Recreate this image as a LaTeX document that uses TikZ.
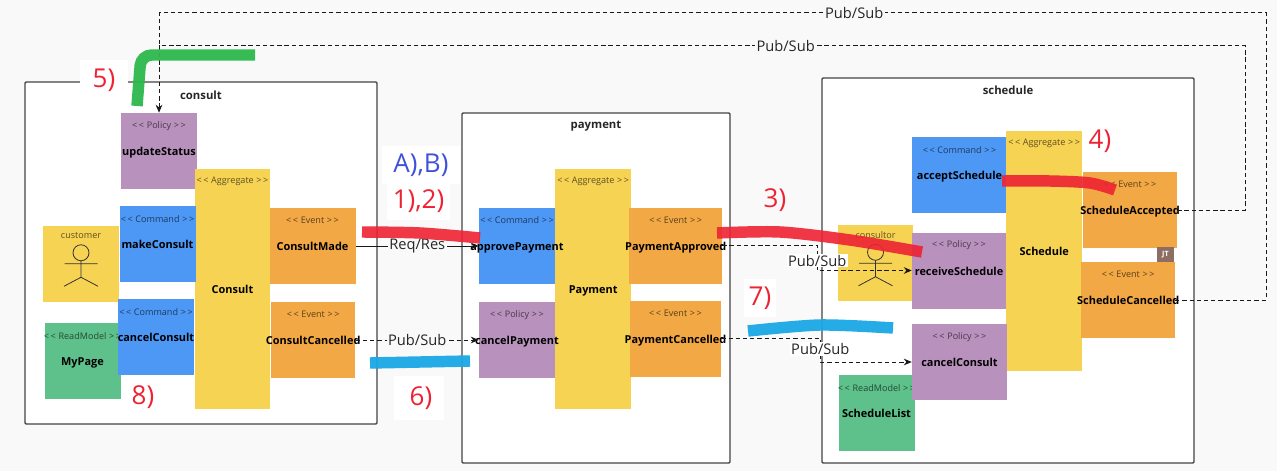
\documentclass[tikz,border=0pt]{standalone}
\usepackage{fontspec}
\setmainfont{Open Sans}
\usepackage{xcolor}
\usetikzlibrary{arrows.meta}
\definecolor{canvasbg}{HTML}{F9F9F9}
\definecolor{boxline}{HTML}{444444}
\definecolor{commandfill}{HTML}{4E98F5}
\definecolor{aggregatefill}{HTML}{F7D354}
\definecolor{eventfill}{HTML}{F2A845}
\definecolor{policyfill}{HTML}{B892BD}
\definecolor{readfill}{HTML}{5EC08A}
\definecolor{jtfill}{HTML}{8D6E63}
\definecolor{notered}{HTML}{EE2233}
\definecolor{noteblue}{HTML}{3F51D9}
\definecolor{markred}{HTML}{EE2233}
\definecolor{markgreen}{HTML}{2DB84D}
\definecolor{markblue}{HTML}{1AA7E5}
\newcommand{\stereo}[1]{<\kern1.2pt<\kern2pt #1\kern2pt >\kern1.2pt>}
\newcommand{\nm}[1]{\makebox[0pt]{\smash{\raisebox{-3.4pt}{#1}}}}
\tikzset{
  context/.style={draw=boxline, line width=1.1pt, fill=white, rounded corners=.8pt, inner sep=0pt},
  title/.style={anchor=center, font=\bfseries\fontsize{8.5}{10}\selectfont, text=black!85},
  tag/.style={anchor=center, yshift=-9.8pt, font=\fontsize{6.8}{8}\selectfont, text=black, text opacity=.62, inner sep=0pt},
  sticky/.style={inner sep=0pt, minimum width=57pt, minimum height=57pt, font=\bfseries\fontsize{8.2}{10}\selectfont},
  command/.style={sticky, fill=commandfill, label={[tag]north:\stereo{Command}}},
  aggregate/.style={sticky, fill=aggregatefill, minimum height=180pt, label={[tag]north:\stereo{Aggregate}}},
  event/.style={sticky, fill=eventfill, label={[tag]north:\stereo{Event}}},
  policy/.style={sticky, fill=policyfill, label={[tag]north:\stereo{Policy}}},
  readmodel/.style={sticky, fill=readfill, label={[tag]north:\stereo{ReadModel}}},
  actor/.style={sticky, fill=aggregatefill, label={[tag, yshift=1.8pt]north:#1}},
  link/.style={draw=black!90, line width=.75pt, -{Stealth[length=6pt,width=5pt]}},
  pubsub/.style={link, dash pattern=on 3.2pt off 2.2pt},
  linklabel/.style={fill=canvasbg, inner sep=1pt, font=\fontsize{11}{13}\selectfont, text=black!85},
  note/.style={fill=white, inner sep=0pt, font=\fontsize{19.5}{22}\selectfont, text=notered},
  marker/.style={line width=8.6pt, opacity=.95},
  stickman/.pic={
    \draw[line width=.6pt, draw=black!80] (0,-49) circle (6pt)
      (-16.5,-38) -- (16.5,-38) (0,-41) -- (0,-24.5) (-17,-15.5) -- (0,-24.5) -- (17,-15.5);
  }
}

\begin{document}
\begin{tikzpicture}[x=.75pt, y=-.75pt]
  % Canvas
  \fill[white] (0,0) rectangle (1281,474);
  \fill[canvasbg] (0,0) rectangle (1277,471);
  \useasboundingbox (0,0) rectangle (1281,474);

  % Bounded contexts
  \node[context, minimum width=264pt, minimum height=256.5pt, label={[title, yshift=-10.2pt]north:consult}] (consultBox) at (201,253) {};
  \node[context, minimum width=201pt, minimum height=262.5pt, label={[title, yshift=-10.2pt]north:payment}] (paymentBox) at (596,288) {};
  \node[context, minimum width=279pt, minimum height=288.75pt, label={[title, yshift=-9.5pt]north:schedule}] (scheduleBox) at (1008,270.5) {};

  % Consult
  \node[policy] (updateStatus) at (159,151) {\nm{updateStatus}};
  \node[actor=customer] (customer) at (81,263.5) {};
  \pic at (customer.south) {stickman};
  \node[aggregate, minimum width=56.6pt] (Consult) at (232.5,289) {\nm{Consult}};
  \node[command] (makeConsult) at (157.5,244) {\nm{makeConsult}};
  \node[event, minimum width=64.5pt] (ConsultMade) at (312.5,246) {\nm{ConsultMade}};
  \node[readmodel] (MyPage) at (82.5,361) {\nm{MyPage}};
  \node[command] (cancelConsultCmd) at (156,337) {\nm{cancelConsult}};
  \node[event, minimum width=63.4pt] (ConsultCancelled) at (313.2,340) {\nm{ConsultCancelled}};

  % Payment
  \node[aggregate, minimum width=56.6pt] (Payment) at (593.2,289) {\nm{Payment}};
  \node[command] (approvePayment) at (517,245.5) {\nm{approvePayment}};
  \node[policy] (cancelPayment) at (517,340) {\nm{cancelPayment}};
  \node[event, minimum width=69.4pt] (PaymentApproved) at (675.7,245.5) {\nm{PaymentApproved}};
  \node[event, minimum width=68.3pt] (PaymentCancelled) at (675.5,338.5) {\nm{PaymentCancelled}};

  % Schedule
  \node[command, minimum width=71.2pt] (acceptSchedule) at (959.5,175) {\nm{acceptSchedule}};
  \node[actor=consultor, minimum width=56.2pt] (consultor) at (875.5,263) {};
  \pic at (consultor.south) {stickman};
  \node[aggregate, minimum width=56.6pt] (Schedule) at (1044.2,251) {\nm{Schedule}};
  \node[event, minimum width=70.5pt] (ScheduleAccepted) at (1130,210) {\nm{ScheduleAccepted}};
  \node[policy, minimum width=70.5pt] (receiveSchedule) at (959,270.5) {\nm{receiveSchedule}};
  \node[event, minimum width=70.1pt] (ScheduleCancelled) at (1128.2,300) {\nm{ScheduleCancelled}};
  \node[readmodel] (ScheduleList) at (876.5,413) {\nm{ScheduleList}};
  \node[policy, minimum width=71.2pt] (cancelConsult) at (959.5,362) {\nm{cancelConsult}};
  \node[fill=jtfill, text=white, inner sep=0pt, minimum width=12.8pt, minimum height=10.9pt, font=\bfseries\fontsize{5.4}{6}\selectfont] (jt) at (1165.5,254.7) {JT};

  % Relationships
  \draw[link] (ConsultMade.east) -- node[linklabel] (reqres) {Req/Res} (ConsultMade.east -| approvePayment.west);
  \draw[pubsub] (ConsultCancelled.east) -- node[linklabel] (pubsubA) {Pub/Sub} (ConsultCancelled.east -| cancelPayment.west);
  \draw[pubsub] (PaymentApproved.east) -- ++(95,0) |- node[linklabel, pos=.3, fill=white] (pubsubB) {Pub/Sub} (receiveSchedule.west);
  \draw[pubsub] (PaymentCancelled.east) -- ++(99,0) |- node[linklabel, pos=.22, fill=white] (pubsubC) {Pub/Sub} (cancelConsult.west);
  \coordinate (innerCorner) at (1245,46);
  \coordinate (outerCorner) at (1266,13);
  \draw[pubsub] (ScheduleAccepted.east) -| (innerCorner) -- node[linklabel, pos=.423] (pubsubD) {Pub/Sub} (innerCorner -| updateStatus.north) -- (updateStatus.north);
  \draw[pubsub, -] (ScheduleCancelled.east) -| (outerCorner) -- node[linklabel, pos=.372] (pubsubE) {Pub/Sub} (outerCorner -| updateStatus.north) -- (innerCorner -| updateStatus.north);

  % Highlighter strokes
  \draw[marker, markred, opacity=.9] plot[smooth] coordinates {(362,232) (420,233) (480,238)};
  \draw[marker, markred, opacity=.9] plot[smooth] coordinates {(717,233) (780,232) (850,240) (922,252)};
  \draw[marker, markred, opacity=.9] plot[smooth] coordinates {(1002,181) (1050,181) (1090,183) (1115,190)};
  \draw[marker, markgreen, rounded corners=8pt] (137,106) -- (141,55) -- (255,55);
  \draw[marker, markblue] plot[smooth] coordinates {(370,363) (420,362) (470,361)};
  \draw[marker, markblue] plot[smooth] coordinates {(748,331) (820,325) (893,328)};

  % Notes
  \node[note, minimum width=36pt, minimum height=30pt] (note5) at (104,80) {5)\hspace{9pt}};
  \node[note, text=noteblue, minimum width=58.5pt, minimum height=28pt] (noteAB) at (421,165) {A),B)};
  \node[note, minimum width=47pt, minimum height=28pt] (note12) at (418.5,201) {1),2)};
  \node[note, minimum width=37.5pt, minimum height=33pt] (note6) at (419,398) {\hspace{3pt}6)};
  \node[note, minimum width=24pt, minimum height=29pt] (note7) at (760,298) {7)};
  \node[note, fill=none] (note8) at (143,397) {8)};
  \node[note, fill=none] (note3) at (775,200) {3)};
  \node[note, fill=none] (note4) at (1100,141) {4)};
\end{tikzpicture}
\end{document}
